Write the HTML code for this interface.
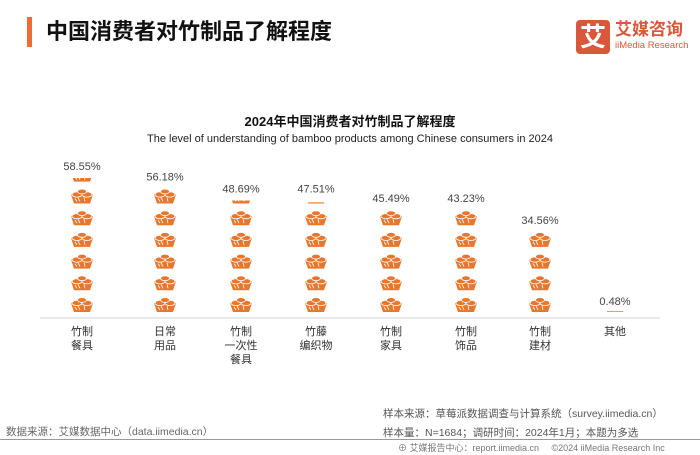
<!DOCTYPE html>
<html><head><meta charset="utf-8"><style>
body{margin:0;width:700px;height:455px;background:#fff;font-family:"Liberation Sans","Noto Sans CJK SC",sans-serif;overflow:hidden;position:relative}
.t{position:absolute;white-space:nowrap}
</style></head><body>
<div class="t" style="left:27px;top:17px;width:5px;height:30px;background:#f06a35"></div>
<div class="t" style="left:46px;top:17px;font-size:22px;font-weight:bold;color:#111;line-height:30px">中国消费者对竹制品了解程度</div>
<div style="position:absolute;left:576px;top:20px;width:120px;height:36px">
<div style="position:absolute;left:0;top:0;width:34px;height:34px;background:#d9573a;border-radius:4px;color:#fff;font-size:26px;font-weight:bold;text-align:center;line-height:34px">艾</div>
<div class="t" style="left:39px;top:0;font-size:17px;font-weight:bold;color:#d9573a;line-height:20px">艾媒咨询</div>
<div class="t" style="left:39px;top:20px;font-size:9.5px;color:#d9573a;line-height:12px">iiMedia Research</div>
</div>
<div class="t" style="left:0;width:700px;text-align:center;top:111px;font-size:13px;font-weight:bold;color:#111">2024年中国消费者对竹制品了解程度</div>
<div class="t" style="left:0;width:700px;text-align:center;top:133px;font-size:11px;color:#222">The level of understanding of bamboo products among Chinese consumers in 2024</div>
<svg id="chart" width="700" height="455" style="position:absolute;left:0;top:0">
<defs>
<g id="ico">
<path d="M-11,-2 L11,-2 L8,7 L-8,7 Z" fill="#e8772e"/>
<ellipse cx="-5" cy="-2" rx="5" ry="2.6" fill="#e8772e" stroke="#fff" stroke-width="0.8"/>
<ellipse cx="5" cy="-2" rx="5" ry="2.6" fill="#e8772e" stroke="#fff" stroke-width="0.8"/>
<ellipse cx="0" cy="-5" rx="4.5" ry="2.4" fill="#e8772e" stroke="#fff" stroke-width="0.8"/>
<path d="M-4,1 L-2,5 M2,1 L3,5 M-7,2 L-5,5" stroke="#fff" stroke-width="0.8"/>
</g>
</defs>
<line x1="40" x2="660" y1="318" y2="318" stroke="#e3e3e3" stroke-width="1.5"/>
</svg>
<div class="t" style="left:6px;top:424px;font-size:10.5px;color:#666">数据来源：艾媒数据中心（data.iimedia.cn）</div>
<div class="t" style="left:383px;top:406px;font-size:10.5px;color:#555">样本来源：草莓派数据调查与计算系统（survey.iimedia.cn）</div>
<div class="t" style="left:383px;top:425px;font-size:10.5px;color:#555">样本量：N=1684；调研时间：2024年1月；本题为多选</div>
<div class="t" style="left:0;top:439px;width:700px;height:1px;background:#999"></div>
<div class="t" style="left:398px;top:441px;font-size:9px;color:#777">⊕ 艾媒报告中心：report.iimedia.cn &nbsp;&nbsp;&nbsp; ©2024 iiMedia Research Inc</div>
<script>
const categories=[["竹制","餐具"],["日常","用品"],["竹制","一次性","餐具"],["竹藤","编织物"],["竹制","家具"],["竹制","饰品"],["竹制","建材"],["其他"]];
const values=[58.55,56.18,48.69,47.51,45.49,43.23,34.56,0.48];
const valueLabels=["58.55%","56.18%","48.69%","47.51%","45.49%","43.23%","34.56%","0.48%"];
const unit=9.36;
const svg=document.getElementById('chart');
const NS='http://www.w3.org/2000/svg';
const xs=[82,165,241,316,391,466,540,615];
function xPos(i){return xs[i];}
function rowY(k){return 305-k*21.7;}
values.forEach((v,i)=>{
  const n=v/unit;let full=Math.floor(n);let frac=n-full;
  if(frac>=0.5){full+=1;frac=0;}
  const x=xPos(i);
  for(let k=0;k<full;k++){
    const u=document.createElementNS(NS,'use');
    u.setAttribute('href','#ico');u.setAttribute('x',x);u.setAttribute('y',rowY(k));
    
    
    svg.appendChild(u);
  }
  let topY=rowY(full-1)-8;
  if(frac>0.01){
    const cy=rowY(full);const h=15*frac;
    const cp=document.createElementNS(NS,'clipPath');cp.setAttribute('id','cp'+i);
    const r=document.createElementNS(NS,'rect');r.setAttribute('x',x-12);r.setAttribute('y',cy+7-h);r.setAttribute('width',24);r.setAttribute('height',Math.max(h,1));
    cp.appendChild(r);svg.appendChild(cp);
    const g=document.createElementNS(NS,'g');g.setAttribute('clip-path','url(#cp'+i+')');
    
    
    const u=document.createElementNS(NS,'use');
    u.setAttribute('href','#ico');u.setAttribute('x',x);u.setAttribute('y',cy);
    g.appendChild(u);svg.appendChild(g);
    topY=Math.min(cy+7-h,cy+4);
  }
  if(full===0)topY=313;
  const t=document.createElementNS(NS,'text');
  t.setAttribute('x',x);t.setAttribute('y',topY-8);t.setAttribute('text-anchor','middle');
  t.setAttribute('font-size','11');t.setAttribute('fill','#444');
  t.setAttribute('font-family','Liberation Sans, sans-serif');
  t.textContent=valueLabels[i];
  
  
  svg.appendChild(t);
  categories[i].forEach((s,j)=>{
    const c=document.createElementNS(NS,'text');
    c.setAttribute('x',x);c.setAttribute('y',335+j*14);c.setAttribute('text-anchor','middle');
    c.setAttribute('font-size','11');c.setAttribute('fill','#333');
    c.setAttribute('font-family','Liberation Sans, Noto Sans CJK SC, sans-serif');
    c.textContent=s;
    
    
    svg.appendChild(c);
  });
});
</script>
</body></html>
